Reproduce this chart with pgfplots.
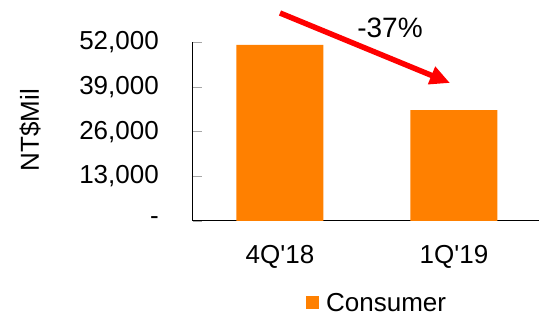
\documentclass[border=0pt]{standalone}
\usepackage{fontspec}
\setmainfont{Liberation Sans}
\usepackage{pgfplots}
\pgfplotsset{compat=1.18}
\usetikzlibrary{arrows.meta}
\definecolor{barorange}{HTML}{FF8000}
\newcommand\fs{\fontsize{26pt}{30pt}\selectfont}
\begin{document}
\begin{tikzpicture}[x=1pt,y=1pt]
\useasboundingbox (0,0) rectangle (539,323);
\begin{axis}[
  at={(193pt,102pt)}, anchor=south west,
  scale only axis, width=348pt, height=178.5pt,
  xmin=-0.5, xmax=1.5, ymin=0, ymax=52000,
  scaled y ticks=false,
  axis x line*=bottom, axis y line*=left,
  ybar, bar width=87pt,
  xtick={0,1}, xticklabels={4Q\textquotesingle18, 1Q\textquotesingle19},
  major x tick style={draw=none},
  extra x ticks={0.5}, extra x tick labels={},
  extra x tick style={major tick length=8pt, tick style={gray!60, line width=0.8pt}},
  ytick={0,13000,26000,39000,52000},
  yticklabels={-, {13,000}, {26,000}, {39,000}, {52,000}},
  tick align=inside, major tick length=9pt,
  y tick style={gray!70, line width=0.8pt},
  axis line style={black, line width=1pt},
  yticklabel style={font=\fs, anchor=east, inner sep=0pt, xshift=-34pt},
  xticklabel style={font=\fs, anchor=north, inner sep=0pt, yshift=-24pt},
  every axis y label/.style={at={(axis description cs:-0.468,0.51)}, rotate=90, anchor=center, font=\fs},
  ylabel={NT\$Mil},
  legend style={draw=none, at={(axis description cs:0.529,-0.459)}, anchor=center, font=\fs, inner sep=0pt,
    /tikz/every odd column/.append style={column sep=5pt}},
  legend image code/.code={\fill[barorange] (0pt,-6.5pt) rectangle (13pt,6.5pt);},
]
\addplot[fill=barorange, draw=none] coordinates {(0,51300) (1,32300)};
\legend{Consumer}
\end{axis}
\draw[red, line width=5.5pt, -{Triangle[length=20pt,width=18pt]}] (280,310) -- (450,240);
\node[font=\fontsize{28pt}{30pt}\selectfont] at (390,295) {-37\%};
\end{tikzpicture}
\end{document}
